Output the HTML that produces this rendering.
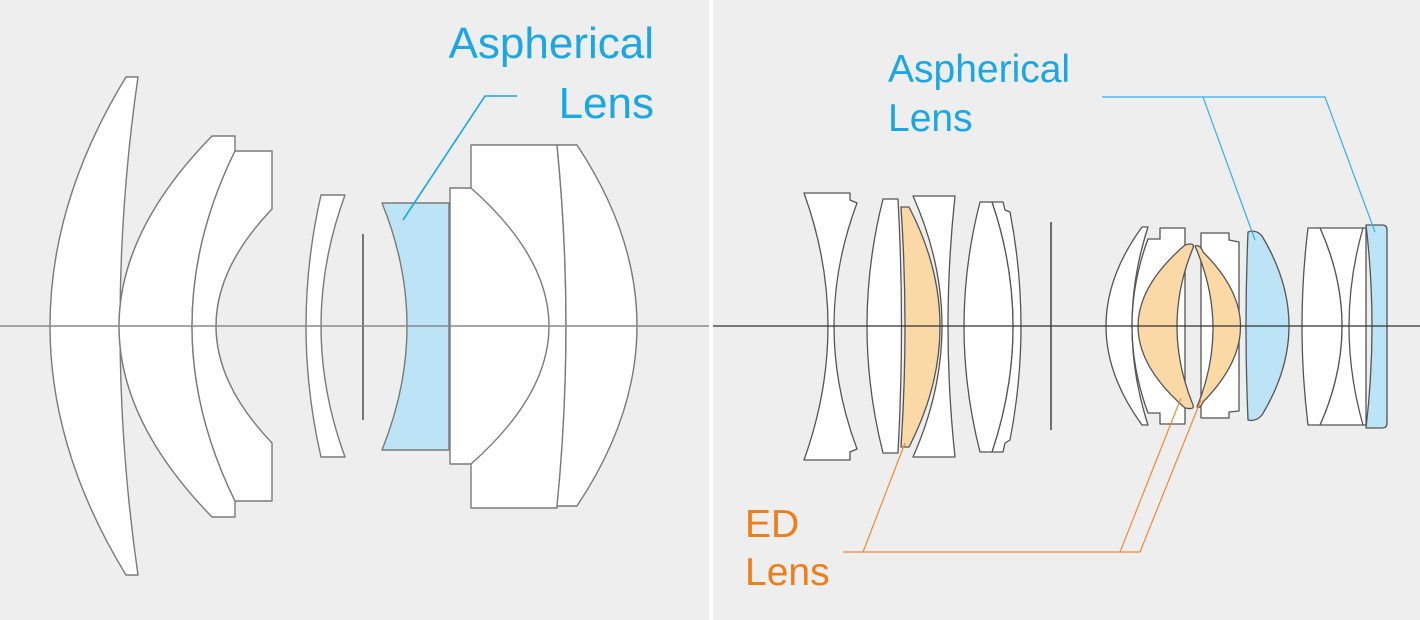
<!DOCTYPE html>
<html><head><meta charset="utf-8"><style>
html,body{margin:0;padding:0;background:#eeeeef;}
svg{display:block;}
</style></head><body>
<svg width="1420" height="620" viewBox="0 0 1420 620" xmlns="http://www.w3.org/2000/svg">
<rect x="0" y="0" width="1420" height="620" fill="#eeeeef"/>
<rect x="709" y="0" width="4" height="620" fill="#ffffff"/>

<!-- LEFT PANEL -->
<g fill="#ffffff" stroke="#7a7a7a" stroke-width="1.4" stroke-linejoin="round">
  <path d="M126,77 L138,77 Q102,326 138,575 L126,575 Q-26,326 126,77 Z"/>
  <path d="M212,136 L235,136 L235,151 Q149,326 235,501 L235,517 L212,517 Q26,326 212,136 Z"/>
  <path d="M235,151 L272,151 L272,209 Q160,326 272,443 L272,501 L235,501 Q149,326 235,151 Z"/>
  <path d="M321,195 L345,195 Q297,326 345,457 L321,457 Q291,326 321,195 Z"/>
  <path d="M382,203 L449,203 L449,450 L382,450 Q432,326 382,203 Z" fill="#bde3f6"/>
  <path d="M471,145 L557,145 Q575,326 557,508 L471,508 Z"/>
  <path d="M557,145 L577,145 Q697,326 577,506 L557,506 Q575,326 557,145 Z"/>
  <path d="M450,188 L471,188 Q627,326 471,464 L450,464 Z"/>
</g>
<line x1="363" y1="234" x2="363" y2="420" stroke="#777" stroke-width="2"/>
<line x1="0" y1="326" x2="709" y2="326" stroke="#888" stroke-width="1.5"/>
<g font-family="Liberation Sans, sans-serif" font-size="44" fill="#1aa7e4" text-anchor="end">
  <text x="654" y="58">Aspherical</text>
  <text x="654" y="118">Lens</text>
</g>
<polyline points="517,96 485,96 403,220" fill="none" stroke="#1aa7e4" stroke-width="1.6"/>

<!-- RIGHT PANEL -->
<g fill="#ffffff" stroke="#555" stroke-width="1.3" stroke-linejoin="round">
  <path d="M804,193 L850,193 L850,200 L857,203 Q811,326 857,449 L850,452 L850,460 L804,460 Q852,326 804,193 Z"/>
  <path d="M883,199 L898,199 Q905,326 898,453 L883,453 Q851,326 883,199 Z"/>
  <path d="M913,196 L955,196 Q941,326 955,457 L913,457 Q971,326 913,196 Z"/>
  <path d="M901,207 L909,207 Q971,326 909,447 L901,447 Q909,326 901,207 Z" fill="#fbd9a6"/>
  <path d="M992,202 L1003,202 L1005,210 L1010,212 Q1032,326 1010,440 L1005,443 L1003,452 L992,452 Q1034,326 992,202 Z"/>
  <path d="M980,202 L992,202 Q1034,326 992,452 L980,452 Q948,326 980,202 Z"/>
  <path d="M1142,227 L1148,227 Q1116,326 1148,425 L1142,425 Q1070,326 1142,227 Z"/>
  <path d="M1148,239 L1160,239 L1160,228 L1185,228 L1185,424 L1160,424 L1160,413 L1148,413 Q1116,326 1148,239 Z"/>
  <path d="M1201,233 L1229,233 L1229,240 L1239,242 L1239,411 L1229,412 L1229,418 L1201,418 Z"/>
  <path d="M1185,245 Q1195,242 1193,248 Q1161,326 1193,405 Q1195,410 1185,408 Q1091,326 1185,245 Z" fill="#fbd9a6"/>
  <path d="M1195,246 Q1200,244 1203,252 Q1278,326 1203,402 Q1200,409 1197,407 Q1230,326 1195,246 Z" fill="#fbd9a6"/>
  <path d="M1248,232 Q1256,229 1262,236 Q1316,326 1262,415 Q1256,422 1248,420 Q1244,326 1248,232 Z" fill="#bde3f6"/>
  <path d="M1320,228 L1366,228 L1366,425 L1320,425 Q1364,326 1320,228 Z"/>
  <path d="M1308,228 L1320,228 Q1364,326 1320,425 L1308,425 Q1296,326 1308,228 Z"/>
  <path d="M1363,228 Q1335,326 1363,425" fill="none"/>
  <path d="M1366,225 L1382,225 Q1387,225 1387,230 L1387,423 Q1387,428 1382,428 L1366,428 Q1378,326 1366,225 Z" fill="#bde3f6"/>
</g>
<line x1="1051" y1="222" x2="1051" y2="430" stroke="#444" stroke-width="1.5"/>
<line x1="713" y1="326" x2="1420" y2="326" stroke="#333" stroke-width="1.3"/>

<g font-family="Liberation Sans, sans-serif" font-size="39" fill="#1aa7e4">
  <text x="888" y="82">Aspherical</text>
  <text x="888" y="131">Lens</text>
</g>
<g fill="none" stroke="#39b0e6" stroke-width="1.2">
  <polyline points="1102,97 1325,97 1375,232"/>
  <line x1="1203" y1="97" x2="1255" y2="240"/>
</g>
<g font-family="Liberation Sans, sans-serif" font-size="39" fill="#ef7d1a">
  <text x="745" y="537">ED</text>
  <text x="745" y="585">Lens</text>
</g>
<g fill="none" stroke="#f08a3a" stroke-width="1.2">
  <polyline points="843,552 1140,552 1201,400"/>
  <line x1="1120" y1="552" x2="1181" y2="398"/>
  <line x1="863" y1="552" x2="905" y2="443"/>
</g>
</svg>
</body></html>
